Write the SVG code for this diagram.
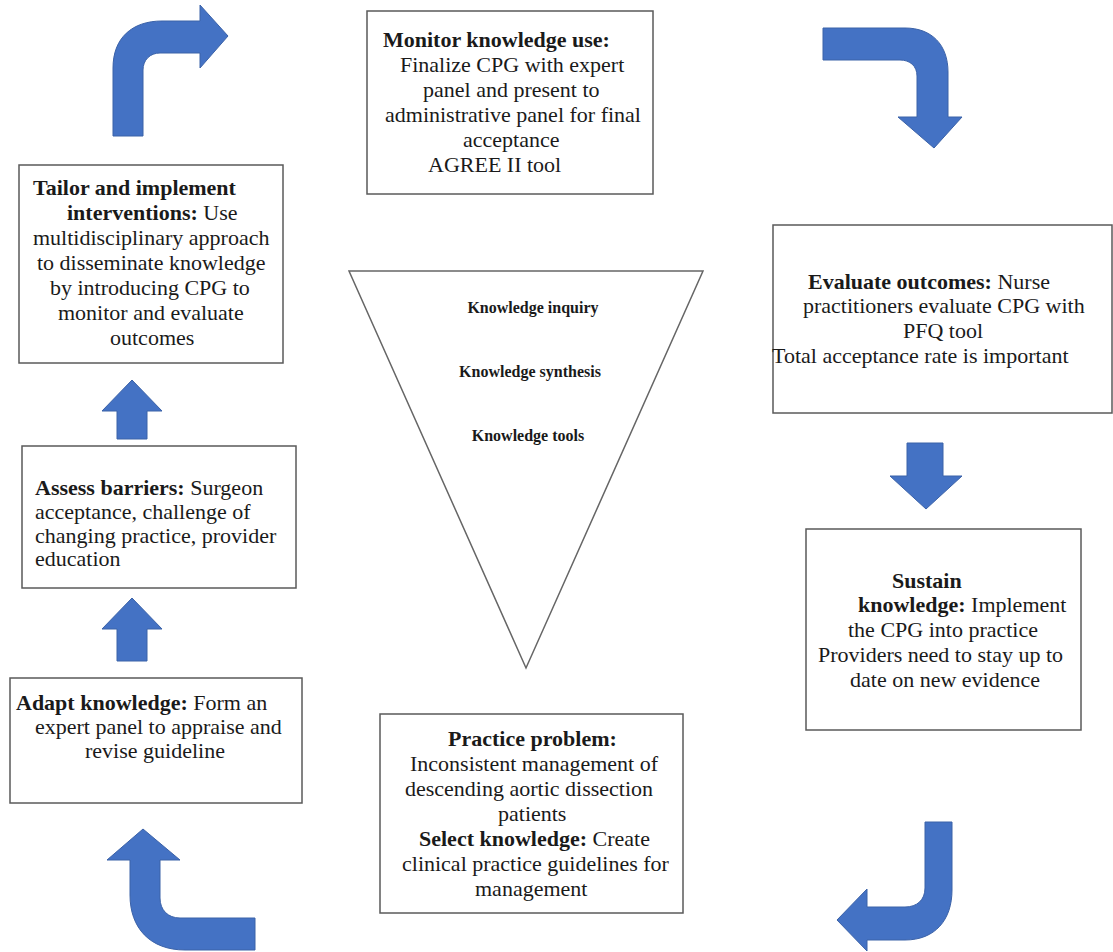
<svg xmlns="http://www.w3.org/2000/svg" width="1113" height="952" viewBox="0 0 1113 952">
<style>
  .box { fill: #ffffff; stroke: #5a5a5a; stroke-width: 1.5; }
  .tri { fill: #ffffff; stroke: #666666; stroke-width: 1.5; }
  .t { font-family: "Liberation Serif", "Times New Roman", serif; font-size: 22px; fill: #1a1a1a; }
  .b { font-weight: bold; }
  .k { font-family: "Liberation Serif", "Times New Roman", serif; font-size: 16px; font-weight: bold; fill: #1a1a1a; text-anchor: middle; }
  .arr { fill: #4472C4; stroke: #3b62a8; stroke-width: 1; }
</style>
<rect width="1113" height="952" fill="#ffffff"/>

<g id="knowledge-funnel">
  <polygon class="tri" points="349,271 703,271 526,668"/>
  <text class="k" x="533" y="313">Knowledge inquiry</text>
  <text class="k" x="530" y="377">Knowledge synthesis</text>
  <text class="k" x="528" y="441">Knowledge tools</text>
</g>

<g id="monitor">
  <rect class="box" x="367" y="11" width="286" height="183"/>
  <text class="t b" x="383" y="47">Monitor knowledge use:</text>
  <text class="t" x="400" y="72">Finalize CPG with expert</text>
  <text class="t" x="423" y="97">panel and present to</text>
  <text class="t" x="385" y="122">administrative panel for final</text>
  <text class="t" x="463" y="147">acceptance</text>
  <text class="t" x="428" y="172">AGREE II tool</text>
</g>

<g id="tailor">
  <rect class="box" x="19" y="165" width="264" height="198"/>
  <text class="t b" x="33" y="195">Tailor and implement</text>
  <text class="t" x="67" y="220"><tspan class="b">interventions:</tspan> Use</text>
  <text class="t" x="33" y="245">multidisciplinary approach</text>
  <text class="t" x="37" y="270">to disseminate knowledge</text>
  <text class="t" x="50" y="295">by introducing CPG to</text>
  <text class="t" x="58" y="320">monitor and evaluate</text>
  <text class="t" x="110" y="345">outcomes</text>
</g>

<g id="evaluate">
  <rect class="box" x="773" y="225" width="339" height="188"/>
  <text class="t" x="808" y="289"><tspan class="b">Evaluate outcomes:</tspan> Nurse</text>
  <text class="t" x="803" y="313">practitioners evaluate CPG with</text>
  <text class="t" x="903" y="338">PFQ tool</text>
  <text class="t" x="772" y="363">Total acceptance rate is important</text>
</g>

<g id="assess">
  <rect class="box" x="22" y="446" width="274" height="142"/>
  <text class="t" x="35" y="495"><tspan class="b">Assess barriers:</tspan> Surgeon</text>
  <text class="t" x="35" y="519">acceptance, challenge of</text>
  <text class="t" x="35" y="543">changing practice, provider</text>
  <text class="t" x="35" y="566">education</text>
</g>

<g id="adapt">
  <rect class="box" x="10" y="678" width="292" height="125"/>
  <text class="t" x="16" y="710"><tspan class="b">Adapt knowledge:</tspan> Form an</text>
  <text class="t" x="35" y="734">expert panel to appraise and</text>
  <text class="t" x="85" y="758">revise guideline</text>
</g>

<g id="practice">
  <rect class="box" x="380" y="714" width="303" height="199"/>
  <text class="t b" x="448" y="746">Practice problem:</text>
  <text class="t" x="410" y="771">Inconsistent management of</text>
  <text class="t" x="405" y="796">descending aortic dissection</text>
  <text class="t" x="498" y="821">patients</text>
  <text class="t" x="419" y="846"><tspan class="b">Select knowledge:</tspan> Create</text>
  <text class="t" x="402" y="871">clinical practice guidelines for</text>
  <text class="t" x="475" y="896">management</text>
</g>

<g id="sustain">
  <rect class="box" x="806" y="529" width="275" height="201"/>
  <text class="t b" x="892" y="588">Sustain</text>
  <text class="t" x="858" y="612"><tspan class="b">knowledge:</tspan> Implement</text>
  <text class="t" x="848" y="637">the CPG into practice</text>
  <text class="t" x="818" y="662">Providers need to stay up to</text>
  <text class="t" x="850" y="687">date on new evidence</text>
</g>

<g id="connectors">
  <path class="arr" d="M113,136 L113,68 C113,38 132,21 162,21 L200,21 L200,5 L228,36 L200,68 L200,53 L160,53 C150,53 143,60 143,70 L143,136 Z"/>
  <path class="arr" d="M823,28 L905,28 C932,28 948,45 948,72 L948,117 L962,117 L934,148 L898,117 L917,117 L917,76 C917,66 910,60 900,60 L823,60 Z"/>
  <path class="arr" d="M907,443 L943,443 L943,476 L962,476 L926,509 L890,476 L907,476 Z"/>
  <path class="arr" d="M925,822 L952,822 L952,890 C952,920 935,940 905,940 L867,940 L867,951 L837,920 L867,889 L867,907 L905,907 C917,907 925,900 925,888 Z"/>
  <path class="arr" d="M255,918 L180,918 C168,918 160,910 160,898 L160,860 L180,860 L143,829 L107,860 L130,860 L130,895 C130,928 150,950 185,950 L255,950 Z"/>
  <path class="arr" d="M117,661 L147,661 L147,629 L162,629 L132,598 L102,629 L117,629 Z"/>
  <path class="arr" d="M117,439 L147,439 L147,411 L162,411 L132,380 L102,411 L117,411 Z"/>
</g>
</svg>
